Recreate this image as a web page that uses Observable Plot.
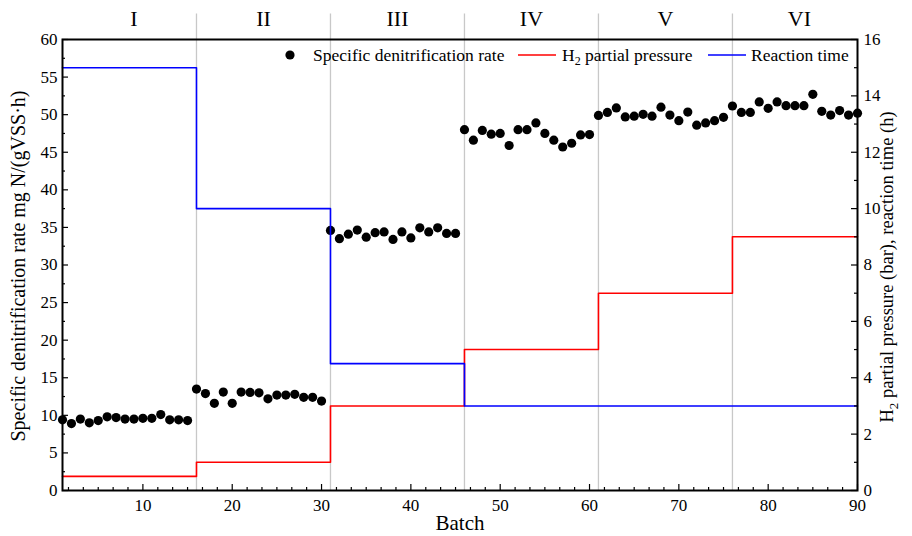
<!DOCTYPE html>
<html><head><meta charset="utf-8">
<script src="https://cdn.jsdelivr.net/npm/d3@7"></script>
<script src="https://cdn.jsdelivr.net/npm/@observablehq/plot@0.6"></script>
<style>
body{margin:0;background:#fff}
svg{font-family:"Liberation Serif","Times New Roman",serif}
</style>
</head><body><div id="chart"></div>
<script>
const batch = [1,2,3,4,5,6,7,8,9,10,11,12,13,14,15,16,17,18,19,20,21,22,23,24,25,26,27,28,29,30,
31,32,33,34,35,36,37,38,39,40,41,42,43,44,45,46,47,48,49,50,51,52,53,54,55,56,57,58,59,60,
61,62,63,64,65,66,67,68,69,70,71,72,73,74,75,76,77,78,79,80,81,82,83,84,85,86,87,88,89,90];
const rate = [
9.4,8.9,9.5,9.0,9.3,9.8,9.7,9.5,9.5,9.6,9.6,10.1,9.4,9.4,9.3,
13.5,12.9,11.6,13.1,11.6,13.1,13.05,13.0,12.2,12.7,12.7,12.8,12.4,12.4,11.9,
34.6,33.5,34.1,34.65,33.7,34.3,34.4,33.4,34.4,33.6,34.95,34.4,34.95,34.2,34.2,
48.0,46.6,47.9,47.4,47.5,45.9,48.0,48.0,48.9,47.5,46.6,45.7,46.2,47.3,47.35,
49.9,50.3,50.9,49.7,49.8,50.05,49.8,51.0,49.95,49.2,50.35,48.6,48.9,49.2,49.65,
51.15,50.3,50.3,51.7,50.85,51.7,51.2,51.2,51.2,52.7,50.45,49.95,50.55,49.95,50.2];
const pressureBatch = [1,16,31,46,61,76,90];
const pressure = [0.5,1,3,5,7,9,9];
const timeBatch = [1,16,31,46,90];
const reactionTime = [15,10,4.5,3,3];
const stageLabels = ["I","II","III","IV","V","VI"];
const stageLabelX = [9,23.5,38.5,53.5,68.5,83.5];
const boundaries = [16,31,46,61,76];
const xTicks = [10,20,30,40,50,60,70,80,90];
const xMinor = [1.67,3.33,5,6.67,8.33,11.67,13.33,15,16.67,18.33,21.67,23.33,25,26.67,28.33,31.67,33.33,35,36.67,38.33,41.67,43.33,45,46.67,48.33,51.67,53.33,55,56.67,58.33,61.67,63.33,65,66.67,68.33,71.67,73.33,75,76.67,78.33,81.67,83.33,85,86.67,88.33];
const leftTicks = [0,5,10,15,20,25,30,35,40,45,50,55,60];
const leftMinor = [2.5,7.5,12.5,17.5,22.5,27.5,32.5,37.5,42.5,47.5,52.5,57.5];
const rightTicks = [0,2,4,6,8,10,12,14,16];
const rightMinor = [1,3,5,7,9,11,13,15];
const K = 60/16; // right-axis units to left-axis units

const rateData = batch.map((b,i)=>({b, v: rate[i]}));
const pData = pressureBatch.map((b,i)=>({b, v: pressure[i]}));
const tData = timeBatch.map((b,i)=>({b, v: reactionTime[i]}));

// tick lengths expressed in data units (≈ 7.52 px per y unit, ≈ 8.92 px per batch)
const PY = 452/60, PX = 794/89;
const tickX = (vals, len) => Plot.ruleX(vals, {x: d=>d, y1: 0, y2: len/PY, stroke: "#000", strokeWidth: 1.2});
const tickL = (vals, len) => Plot.ruleY(vals, {y: d=>d, x1: 1, x2: 1+len/PX, stroke: "#000", strokeWidth: 1.2});
const tickR = (vals, len) => Plot.ruleY(vals, {y: d=>d*K, x1: 90-len/PX, x2: 90, stroke: "#000", strokeWidth: 1.2});

const plot = Plot.plot({
  width: 912, height: 536,
  marginLeft: 62, marginRight: 55, marginTop: 39, marginBottom: 46,
  style: {fontFamily: "Liberation Serif, serif", fontSize: "16px", color: "#000", background: "#fff", overflow: "visible"},
  x: {domain: [1, 90]},
  y: {domain: [0, 60]},
  marks: [
    Plot.ruleX(boundaries, {x: d=>d, y1: 0, y2: 63.4, stroke: "#c8c8c8", strokeWidth: 1.3}),
    Plot.text(stageLabels, {x: (d,i)=>stageLabelX[i], y: 60, dy: -21, text: d=>d, fontSize: 22}),
    Plot.dot(rateData, {x: "b", y: "v", r: 4.6, fill: "#000", stroke: "none"}),
    Plot.line(pData, {x: "b", y: d=>d.v*K, curve: "step-after", stroke: "#ff0000", strokeWidth: 1.6}),
    Plot.line(tData, {x: "b", y: d=>d.v*K, curve: "step-after", stroke: "#0000ff", strokeWidth: 1.6}),
    tickX(xTicks, 6), tickX(xMinor, 3),
    tickL(leftTicks, 6), tickL(leftMinor, 3),
    tickR(rightTicks, 6), tickR(rightMinor, 3),
    Plot.axisX(xTicks, {tickSize: 0, tickPadding: 8, label: null, fontSize: 17}),
    Plot.axisY(leftTicks, {tickSize: 0, tickPadding: 5, label: null, fontSize: 17}),
    Plot.axisY(rightTicks.map(v=>v*K), {anchor: "right", tickSize: 0, tickPadding: 6, label: null, fontSize: 17, tickFormat: d=>String(Math.round(d/K))}),
    Plot.frame({stroke: "#000", strokeWidth: 2})
  ]
});
document.getElementById("chart").appendChild(plot);

const svg = d3.select(plot);
const g = svg.append("g").attr("font-family","Liberation Serif, serif").attr("fill","#000").attr("text-anchor","start");
// axis titles
g.append("text").attr("x", 460).attr("y", 530).attr("text-anchor","middle").attr("font-size", 21).text("Batch");
g.append("text").attr("transform","translate(25,266) rotate(-90)").attr("text-anchor","middle").attr("font-size", 20)
  .text("Specific denitrification rate mg N/(gVSS·h)");
const rt = g.append("text").attr("transform","translate(893,267) rotate(-90)").attr("text-anchor","middle").attr("font-size", 18.5);
rt.append("tspan").text("H");
rt.append("tspan").attr("font-size", 13).attr("dy", 5).text("2");
rt.append("tspan").attr("dy", -5).text(" partial pressure (bar), reaction time (h)");
// legend
const ly = 55;
g.append("circle").attr("cx", 290).attr("cy", ly).attr("r", 4.6).attr("fill","#000");
g.append("text").attr("x", 313).attr("y", ly+6).attr("font-size", 17.5).attr("text-anchor","start").text("Specific denitrification rate");
g.append("line").attr("x1", 518).attr("x2", 556).attr("y1", ly).attr("y2", ly).attr("stroke","#ff0000").attr("stroke-width",1.6);
const l2 = g.append("text").attr("x", 562).attr("y", ly+6).attr("font-size", 17.5).attr("text-anchor","start");
l2.append("tspan").text("H");
l2.append("tspan").attr("font-size", 12).attr("dy", 4).text("2");
l2.append("tspan").attr("dy", -4).text(" partial pressure");
g.append("line").attr("x1", 708).attr("x2", 746).attr("y1", ly).attr("y2", ly).attr("stroke","#0000ff").attr("stroke-width",1.6);
g.append("text").attr("x", 751).attr("y", ly+6).attr("font-size", 17.5).attr("text-anchor","start").text("Reaction time");
</script>
</body></html>
